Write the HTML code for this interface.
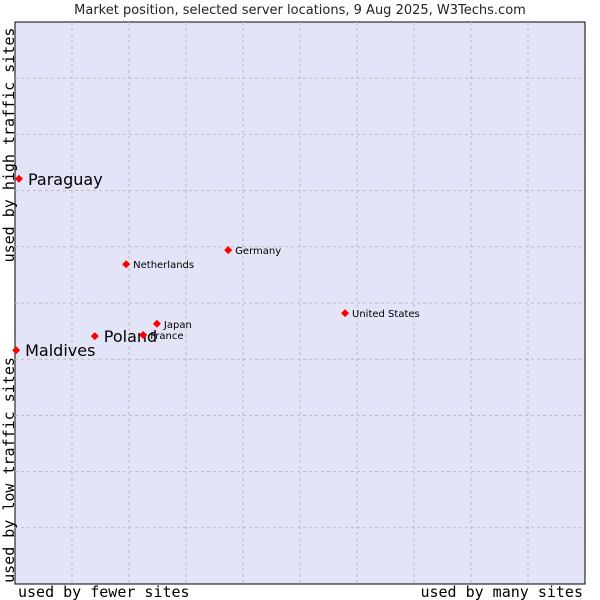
<!DOCTYPE html>
<html><head><meta charset="utf-8"><style>
body{margin:0;background:#fff;width:600px;height:600px;overflow:hidden}
svg{display:block}
</style></head><body>
<svg width="600" height="600">
<text x="300" y="14" text-anchor="middle" font-family="DejaVu Sans, sans-serif" font-size="13" fill="#222">Market position, selected server locations, 9 Aug 2025, W3Techs.com</text>
<rect x="15" y="22" width="570" height="562" fill="#e4e4f8" stroke="#000" stroke-width="1"/>
<g id="grid"></g>
<text transform="translate(14,145) rotate(-90)" text-anchor="middle" font-family="DejaVu Sans Mono, Liberation Mono, monospace" font-size="15" fill="#000">used by high traffic sites</text>
<text transform="translate(14,470) rotate(-90)" text-anchor="middle" font-family="DejaVu Sans Mono, Liberation Mono, monospace" font-size="15" fill="#000">used by low traffic sites</text>
<text x="18" y="597" font-family="DejaVu Sans Mono, Liberation Mono, monospace" font-size="15" fill="#000">used by fewer sites</text>
<text x="583" y="597" text-anchor="end" font-family="DejaVu Sans Mono, Liberation Mono, monospace" font-size="15" fill="#000">used by many sites</text>
<g id="points"></g>
</svg>
<script>
const names=["Paraguay","Maldives","Poland","France","Japan","Netherlands","Germany","United States"];
const xVals=[0.7,0.2,14.0,22.5,24.9,19.5,37.4,57.9];
const yVals=[72.1,41.6,44.1,44.3,46.3,56.9,59.4,48.2];
const highlight=[true,true,true,false,false,false,false,false];
const L=15,T=22,W=570,H=562;
const sx=v=>L+v/100*W, sy=v=>T+H-v/100*H;
const NS="http://www.w3.org/2000/svg";
const g=document.getElementById('grid');
for(let i=1;i<10;i++){
  const v=document.createElementNS(NS,'line');
  
  
  v.setAttribute('x1',sx(i*10));v.setAttribute('x2',sx(i*10));v.setAttribute('y1',T);v.setAttribute('y2',T+H);
  v.setAttribute('stroke','#bbb');v.setAttribute('stroke-dasharray','3,3');g.appendChild(v);
  const h=document.createElementNS(NS,'line');
  
  
  h.setAttribute('x1',L);h.setAttribute('x2',L+W);h.setAttribute('y1',sy(i*10));h.setAttribute('y2',sy(i*10));
  h.setAttribute('stroke','#bbb');h.setAttribute('stroke-dasharray','3,3');g.appendChild(h);
}
const p=document.getElementById('points');
names.forEach((n,i)=>{
  const x=sx(xVals[i]),y=sy(yVals[i]);
  const m=document.createElementNS(NS,'polygon');
  
  
  m.setAttribute('points',`${x},${y-4} ${x+4},${y} ${x},${y+4} ${x-4},${y}`);
  m.setAttribute('fill','#f00');p.appendChild(m);
  const t=document.createElementNS(NS,'text');
  
  
  t.setAttribute('x',x+(highlight[i]?9:7));t.setAttribute('y',y+(highlight[i]?6:4));
  t.setAttribute('font-family','DejaVu Sans, sans-serif');
  t.setAttribute('font-size',highlight[i]?16:10);
  t.setAttribute('fill','#000');t.textContent=n;p.appendChild(t);
});
</script>
</body></html>
